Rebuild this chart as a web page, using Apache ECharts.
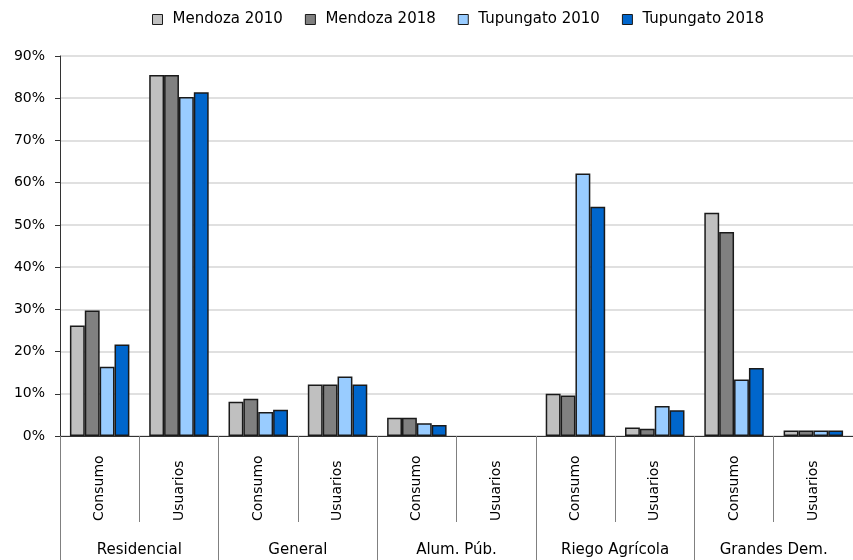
<!DOCTYPE html>
<html>
<head>
<meta charset="utf-8">
<script src="https://cdn.jsdelivr.net/npm/echarts@6/dist/echarts.min.js"></script>
<style>
  html, body { margin: 0; padding: 0; background: #fff; }
  #chart { width: 853px; height: 560px; }
</style>
</head>
<body>
<div id="chart"></div>
<script>
// sub categories (one per bar group) and the outer groups
var subCats = ['Consumo', 'Usuarios', 'Consumo', 'Usuarios', 'Consumo', 'Usuarios',
               'Consumo', 'Usuarios', 'Consumo', 'Usuarios'];
var groups = ['Residencial', 'General', 'Alum. Púb.', 'Riego Agrícola', 'Grandes Dem.'];

// values in % (Alum. Púb. / Usuarios has no bars)
var mendoza2010   = [26.2, 85.5, 8.1, 12.2, 4.3, null, 10.0, 2.0, 52.9, 1.3];
var mendoza2018   = [29.7, 85.5, 8.8, 12.2, 4.3, null, 9.6, 1.7, 48.3, 1.3];
var tupungato2010 = [16.4, 80.3, 5.7, 14.1, 3.0, null, 62.2, 7.1, 13.4, 1.3];
var tupungato2018 = [21.7, 81.4, 6.2, 12.2, 2.6, null, 54.3, 6.1, 16.1, 1.3];

var yTicks = [0, 10, 20, 30, 40, 50, 60, 70, 80, 90];

var myChart = echarts.init(document.getElementById('chart'));

function bar(name, data, color) {
  return {
    name: name,
    type: 'bar',
    data: data,
    barGap: '0%',
    barCategoryGap: '25%',
    itemStyle: {
      color: color,
      borderColor: '#1a1a1a',
      borderWidth: 1.5
    }
  };
}

var option = {
  animation: false,
  textStyle: { fontFamily: 'DejaVu Sans', color: '#000' },
  legend: {
    top: 7,
    left: 147,
    itemWidth: 10,
    itemHeight: 10,
    itemGap: 22,
    textStyle: { fontSize: 15, color: '#000', padding: [0, 0, 0, 5] },
    data: ['Mendoza 2010', 'Mendoza 2018', 'Tupungato 2010', 'Tupungato 2018'].map(function (n) {
      return { name: n, icon: 'rect', itemStyle: { borderColor: '#1a1a1a', borderWidth: 1 } };
    })
  },
  grid: { left: 60, right: -2, top: 56, bottom: 124, containLabel: false },
  xAxis: [
    {
      type: 'category',
      data: subCats,
      axisLine: { lineStyle: { color: '#333', width: 1 } },
      axisTick: { show: true, interval: 0, length: 86, lineStyle: { color: '#808080' } },
      axisLabel: {
        interval: 0, rotate: 90, margin: 85, align: 'left',
        fontSize: 14, color: '#000'
      }
    },
    {
      type: 'category',
      data: groups,
      position: 'bottom',
      axisLine: { show: false },
      axisTick: { show: true, interval: 0, length: 130, lineStyle: { color: '#808080' } },
      axisLabel: { interval: 0, margin: 107, fontSize: 15, color: '#000' }
    }
  ],
  yAxis: {
    type: 'value',
    min: yTicks[0],
    max: yTicks[yTicks.length - 1],
    interval: 10,
    axisLine: { show: true, lineStyle: { color: '#333' } },
    axisTick: { show: true, length: 5, lineStyle: { color: '#333' } },
    axisLabel: { formatter: '{value}%', fontSize: 14, color: '#000', margin: 15 },
    splitLine: { lineStyle: { color: '#e0e0e0', width: 2 } }
  },
  series: [
    bar('Mendoza 2010', mendoza2010, '#c0c0c0'),
    bar('Mendoza 2018', mendoza2018, '#808080'),
    bar('Tupungato 2010', tupungato2010, '#99ccff'),
    bar('Tupungato 2018', tupungato2018, '#0066cc')
  ]
};
myChart.setOption(option);
</script>
</body>
</html>
